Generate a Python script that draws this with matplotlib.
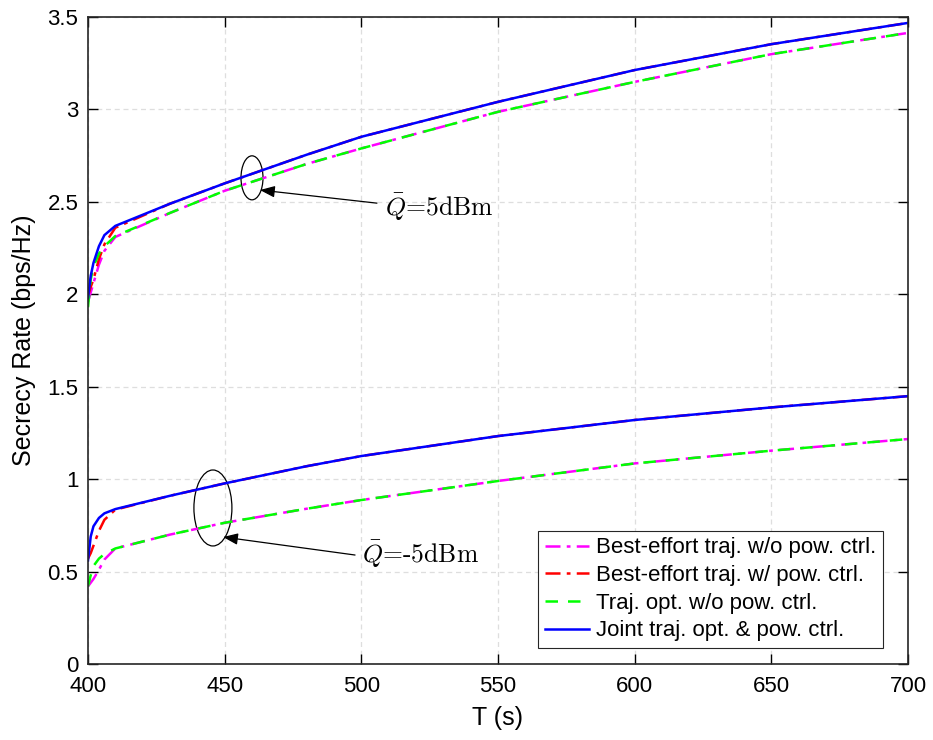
import matplotlib
matplotlib.use("Agg")
import matplotlib.pyplot as plt
from matplotlib.patches import Ellipse

plt.rcParams['font.family'] = ['Liberation Sans', 'DejaVu Sans']
plt.rcParams['mathtext.fontset'] = 'cm'

# ---- data ----
T = [400, 401, 402, 404, 406, 410, 430, 450, 480, 500, 550, 600, 650, 700]

# Q = 5 dBm
hi_best_nopc = [1.96, 2.01, 2.06, 2.16, 2.235, 2.31, 2.44, 2.56, 2.705, 2.789, 2.987, 3.149, 3.299, 3.414]
hi_best_pc   = [1.99, 2.04, 2.08, 2.19, 2.27, 2.36, 2.49, 2.60, 2.755, 2.852, 3.041, 3.213, 3.353, 3.468]
hi_traj_nopc = [1.93, 2.08, 2.15, 2.22, 2.26, 2.315, 2.44, 2.56, 2.705, 2.789, 2.987, 3.149, 3.299, 3.414]
hi_joint     = [1.98, 2.10, 2.17, 2.26, 2.32, 2.37, 2.49, 2.60, 2.755, 2.852, 3.041, 3.213, 3.353, 3.468]

# Q = -5 dBm
lo_best_nopc = [0.42, 0.44, 0.46, 0.51, 0.565, 0.625, 0.70, 0.764, 0.84, 0.887, 0.99, 1.085, 1.154, 1.217]
lo_best_pc   = [0.57, 0.60, 0.64, 0.72, 0.78, 0.835, 0.91, 0.977, 1.07, 1.125, 1.233, 1.32, 1.388, 1.449]
lo_traj_nopc = [0.42, 0.48, 0.53, 0.57, 0.595, 0.625, 0.70, 0.764, 0.84, 0.887, 0.99, 1.085, 1.154, 1.217]
lo_joint     = [0.56, 0.69, 0.745, 0.79, 0.815, 0.838, 0.91, 0.977, 1.07, 1.125, 1.233, 1.32, 1.388, 1.449]

labels = ['Best-effort traj. w/o pow. ctrl.',
          'Best-effort traj. w/ pow. ctrl.',
          'Traj. opt. w/o pow. ctrl.',
          'Joint traj. opt. & pow. ctrl.']
xticks = [400, 450, 500, 550, 600, 650, 700]
yticks = [0, 0.5, 1, 1.5, 2, 2.5, 3, 3.5]
yticklabels = ['0', '0.5', '1', '1.5', '2', '2.5', '3', '3.5']

fig = plt.figure(figsize=(9.33, 7.40), dpi=100)
ax = fig.add_axes([88/933, 1-664/740, 820/933, 647/740])

lw = 1.8
styles = [dict(color=(1, 0, 1), ls=(0, (6, 2.5, 1.5, 2.5)), lw=lw),
          dict(color=(1, 0, 0), ls=(0, (6, 2.5, 1.5, 2.5)), lw=lw),
          dict(color=(0, 1, 0), ls=(0, (5, 4)), lw=lw),
          dict(color=(0, 0, 1), ls='-', lw=lw)]
hi = [hi_best_nopc, hi_best_pc, hi_traj_nopc, hi_joint]
lo = [lo_best_nopc, lo_best_pc, lo_traj_nopc, lo_joint]
for i in range(4):
    ax.plot(T, hi[i], label=labels[i], **styles[i])
    ax.plot(T, lo[i], **styles[i])

ax.set_xlim(400, 700)
ax.set_ylim(0, 3.5)
ax.set_xticks(xticks)
ax.set_yticks(yticks)
ax.set_yticklabels(yticklabels)
ax.tick_params(direction='in', top=True, right=True, length=7, width=1,
               labelsize=16)
ax.tick_params(axis='x', pad=9)
ax.tick_params(axis='y', pad=7)
ax.grid(True, color='#dedede', ls=(0, (4, 3)), lw=0.9)
ax.set_axisbelow(True)
for s in ax.spines.values():
    s.set_linewidth(1.2)
    s.set_color('#262626')
ax.set_xlabel('T (s)', fontsize=18, labelpad=6)
ax.set_ylabel('Secrecy Rate (bps/Hz)', fontsize=18, labelpad=8)

# annotations
ax.add_patch(Ellipse((460.0, 2.63), 8.05, 0.238, fill=False, ec='black', lw=0.9))
ax.add_patch(Ellipse((445.7, 0.844), 13.9, 0.411, fill=False, ec='black', lw=0.9))
arrow = dict(arrowstyle='-|>,head_length=0.9,head_width=0.35', color='black',
             lw=0.9, shrinkA=0, shrinkB=0)
ax.annotate('', xy=(462.9, 2.564), xytext=(505.7, 2.493), arrowprops=arrow)
ax.annotate('', xy=(449.4, 0.687), xytext=(497.7, 0.5895), arrowprops=arrow)
ax.text(508.7, 2.472, r'$\bar{Q}$=5dBm', fontsize=18.5, family='cmr10',
        va='center', ha='left')
ax.text(500.3, 0.59, r'$\bar{Q}$=-5dBm', fontsize=18.5, family='cmr10',
        va='center', ha='left')

leg = ax.legend(loc='lower right', bbox_to_anchor=(0.9695, 0.0247),
                borderaxespad=0, fontsize=16, fancybox=False, framealpha=1,
                edgecolor='#262626', handlelength=2.0, labelspacing=0.3,
                handletextpad=0.3, borderpad=0.3)
leg.get_frame().set_linewidth(0.8)

fig.savefig('out.png', dpi=100)
